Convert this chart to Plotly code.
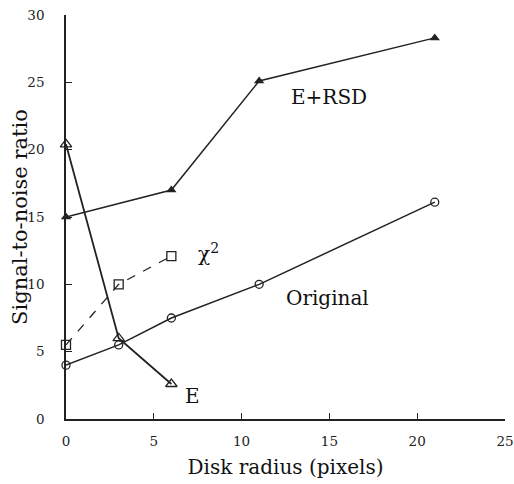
import plotly.graph_objects as go

# Data
erd_x = [0, 6, 11, 21]
erd_y = [15.0, 17.0, 25.1, 28.3]

orig_x = [0, 3, 6, 11, 21]
orig_y = [4.0, 5.5, 7.5, 10.0, 16.1]

chi_x = [0, 3, 6]
chi_y = [5.5, 10.0, 12.1]

e_x = [0, 3, 6]
e_y = [20.4, 6.0, 2.6]

x_ticks = [0, 5, 10, 15, 20, 25]
y_ticks = [0, 5, 10, 15, 20, 25, 30]

FONT = "DejaVu Serif"
LC = "#222222"

fig = go.Figure()
fig.add_trace(go.Scatter(x=erd_x, y=erd_y, mode="lines+markers",
                         line=dict(color=LC, width=1.5),
                         marker=dict(symbol="triangle-up", size=9, color=LC)))
fig.add_trace(go.Scatter(x=orig_x, y=orig_y, mode="lines+markers",
                         line=dict(color=LC, width=1.5),
                         marker=dict(symbol="circle-open", size=8, color=LC, line=dict(width=1.3))))
fig.add_trace(go.Scatter(x=chi_x, y=chi_y, mode="lines+markers",
                         line=dict(color=LC, width=1.3, dash="dash"),
                         marker=dict(symbol="square-open", size=9, color=LC, line=dict(width=1.3))))
fig.add_trace(go.Scatter(x=e_x, y=e_y, mode="lines+markers",
                         line=dict(color=LC, width=1.8),
                         marker=dict(symbol="triangle-up-open", size=10, color=LC, line=dict(width=1.3))))

anns = [
    dict(x=15.0, y=23.9, text="E+RSD"),
    dict(x=8.1, y=12.3, text="χ<sup>2</sup>"),
    dict(x=14.9, y=9.0, text="Original"),
    dict(x=7.23, y=1.7, text="E"),
]
for a in anns:
    fig.add_annotation(x=a["x"], y=a["y"], text=a["text"], showarrow=False,
                       font=dict(family=FONT, size=20, color="#111"))

# y-axis title placed as a rotated annotation to match the reference position
fig.add_annotation(xref="paper", yref="paper", x=-0.105, y=0.5, xanchor="center", yanchor="middle",
                   text="Signal-to-noise ratio", textangle=-90, showarrow=False,
                   font=dict(family=FONT, size=21, color="#111"))

axis_common = dict(showgrid=False, zeroline=False, showline=True, linecolor=LC, linewidth=1.5,
                   ticks="inside", ticklen=6, tickwidth=1.2, tickcolor=LC, automargin=False,
                   ticklabeloverflow="allow",
                   tickfont=dict(family=FONT, size=13.5, color="#222"))
fig.update_xaxes(range=[0, 25], tickvals=x_ticks, ticklabelstandoff=9,
                 title=dict(text="Disk radius (pixels)",
                            font=dict(family=FONT, size=20, color="#111"), standoff=12), **axis_common)
fig.update_yaxes(range=[0, 30], tickvals=y_ticks, ticklabelstandoff=17, **axis_common)

fig.update_layout(width=514, height=484, showlegend=False,
                  font=dict(family=FONT),
                  margin=dict(l=66, r=9, t=15, b=65, autoexpand=False),
                  plot_bgcolor="white", paper_bgcolor="white")
fig.update_traces(cliponaxis=False)

# remove the browser's default 8px body margin so the figure fills the window exactly
fig.write_html("out.html", config={"displayModeBar": False},
               post_script="document.body.style.margin='0';document.body.style.overflow='hidden';")
